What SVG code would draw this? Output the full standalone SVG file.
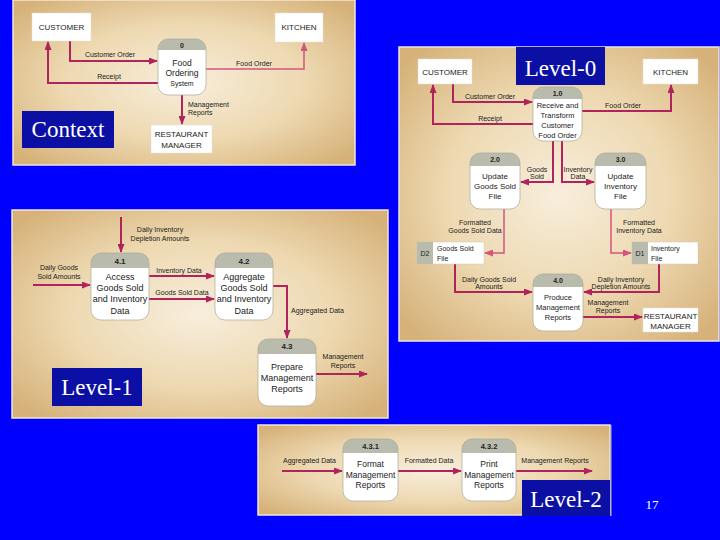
<svg xmlns="http://www.w3.org/2000/svg" width="720" height="540" viewBox="0 0 720 540">
<defs>
<radialGradient id="pg" cx="50%" cy="50%" r="65%">
<stop offset="0" stop-color="#F8EEDC"/>
<stop offset="0.55" stop-color="#EDD8B0"/>
<stop offset="1" stop-color="#D6B27A"/>
</radialGradient>
<marker id="ah" markerUnits="userSpaceOnUse" markerWidth="9" markerHeight="7" refX="8" refY="3.5" orient="auto">
<path d="M0,0 L9,3.5 L0,7 Z" fill="#B0245E"/>
</marker>
<marker id="ahl" markerUnits="userSpaceOnUse" markerWidth="9" markerHeight="7" refX="8" refY="3.5" orient="auto">
<path d="M0,0 L9,3.5 L0,7 Z" fill="#D2557F"/>
</marker>
</defs>
<style>
.panel{fill:url(#pg);stroke:#EFE6D6;stroke-width:1.5}
.lbl{fill:#0B0FA3}
.lbltx{font-family:"Liberation Serif","Times New Roman",serif;fill:#fff;text-anchor:middle}
.ent{fill:#fff;stroke:#E8E0D0;stroke-width:0.5}
.et{font-family:"Liberation Sans",Arial,sans-serif;font-size:8px;fill:#222;text-anchor:middle}
.hd{fill:#B9BBAD}
.bd{fill:#fff}
.ol{fill:none;stroke:#A9A99C;stroke-width:0.7}
.pt{font-family:"Liberation Sans",Arial,sans-serif;fill:#222;text-anchor:middle}
.ht{font-family:"Liberation Sans",Arial,sans-serif;font-weight:bold;fill:#222;text-anchor:middle}
.ds{fill:#fff;stroke:#CFC8B8;stroke-width:0.5}
.dsid{fill:#B9BBAD}
.c{fill:none;stroke:#B0245E;stroke-width:2;marker-end:url(#ah)}
.cl{fill:none;stroke:#D2557F;stroke-width:1.5;marker-end:url(#ahl)}
.t{font-family:"Liberation Sans",Arial,sans-serif;font-size:7px;fill:#222}
.m{text-anchor:middle}
</style>
<rect x="0" y="0" width="720" height="540" fill="#0000FF"/>

<!-- Panels -->
<rect class="panel" x="13" y="0" width="342" height="165"/>
<rect class="panel" x="399" y="47" width="320" height="294"/>
<rect class="panel" x="12" y="210" width="376" height="208"/>
<rect class="panel" x="258" y="425" width="352" height="90"/>

<!-- ===== Context ===== -->
<g id="connectors-context">
<polyline class="c" points="70,41 70,61 157,61"/>
<polyline class="c" points="158,83 48,83 48,42"/>
<polyline class="cl" points="206,69 304,69 304,43"/>
<polyline class="c" points="182,95 182,124"/>
<text class="t m" x="110" y="57" font-size="7.5">Customer Order</text>
<text class="t m" x="109" y="79" font-size="7.5">Receipt</text>
<text class="t m" x="254" y="66" font-size="7.5">Food Order</text>
<text class="t" x="188" y="107" font-size="7.5">Management</text>
<text class="t" x="188" y="115" font-size="7.5">Reports</text>
</g>
<g id="ctx-customer"><rect class="ent" x="32" y="13" width="59" height="28"/><text class="et" x="61.5" y="30">CUSTOMER</text></g>
<g id="ctx-kitchen"><rect class="ent" x="275" y="13" width="48" height="29"/><text class="et" x="299" y="30">KITCHEN</text></g>
<g id="ctx-manager"><rect class="ent" x="151" y="125" width="61" height="28"/><text class="et" x="181.5" y="137">RESTAURANT</text><text class="et" x="181.5" y="148">MANAGER</text></g>
<g id="ctx-p0">
<path class="hd" d="M158,50 V49 A10,10 0 0 1 168,39 H196 A10,10 0 0 1 206,49 V50 Z"/>
<path class="bd" d="M158,50 H206 V85 A10,10 0 0 1 196,95 H168 A10,10 0 0 1 158,85 Z"/>
<rect class="ol" x="158" y="39" width="48" height="56" rx="10"/>
<text class="ht" x="182" y="47.5" font-size="7">0</text>
<text class="pt" x="182" y="66" font-size="8.5">Food</text>
<text class="pt" x="182" y="76" font-size="8.5">Ordering</text>
<text class="pt" x="182" y="86" font-size="7">System</text>
</g>
<g id="lbl-context"><rect class="lbl" x="22" y="111" width="92" height="37"/><text class="lbltx" x="68" y="137" font-size="23">Context</text></g>

<!-- ===== Level-0 ===== -->
<g id="connectors-level0">
<polyline class="c" points="453,84 453,102 532,102"/>
<polyline class="c" points="533,124 433,124 433,85"/>
<polyline class="c" points="582,111 671,111 671,85"/>
<polyline class="c" points="553,141 553,182 521,182"/>
<polyline class="c" points="562,141 562,182 594,182"/>
<polyline class="cl" points="504,209 504,253 485,253"/>
<polyline class="cl" points="611,209 611,253 631,253"/>
<polyline class="c" points="455,264 455,292 532,292"/>
<polyline class="c" points="659,264 659,292 584,292"/>
<polyline class="c" points="583,317 642,317"/>
<text class="t m" x="490" y="99">Customer Order</text>
<text class="t m" x="490" y="121">Receipt</text>
<text class="t m" x="623" y="108">Food Order</text>
<text class="t m" x="537" y="172" font-size="6.5">Goods</text>
<text class="t m" x="537" y="179" font-size="6.5">Sold</text>
<text class="t m" x="578" y="172" font-size="6.5">Inventory</text>
<text class="t m" x="578" y="179" font-size="6.5">Data</text>
<text class="t m" x="475" y="225">Formatted</text>
<text class="t m" x="475" y="233">Goods Sold Data</text>
<text class="t m" x="639" y="225">Formatted</text>
<text class="t m" x="639" y="233">Inventory Data</text>
<text class="t m" x="489" y="282">Daily Goods Sold</text>
<text class="t m" x="489" y="289">Amounts</text>
<text class="t m" x="621" y="282">Daily Inventory</text>
<text class="t m" x="621" y="289">Depletion Amounts</text>
<text class="t m" x="608" y="305">Management</text>
<text class="t m" x="608" y="313">Reports</text>
</g>
<g id="l0-customer"><rect class="ent" x="418" y="59" width="54" height="25"/><text class="et" x="445" y="74.5" font-size="7.5">CUSTOMER</text></g>
<g id="l0-kitchen"><rect class="ent" x="643" y="59" width="55" height="25"/><text class="et" x="670.5" y="74.5" font-size="7.5">KITCHEN</text></g>
<g id="l0-manager"><rect class="ent" x="643" y="308" width="55" height="24"/><text class="et" x="670.5" y="318.5" font-size="8">RESTAURANT</text><text class="et" x="670.5" y="328.5" font-size="8">MANAGER</text></g>
<g id="l0-p1">
<path class="hd" d="M533,99 V97 A10,10 0 0 1 543,87 H572 A10,10 0 0 1 582,97 V99 Z"/>
<path class="bd" d="M533,99 H582 V131 A10,10 0 0 1 572,141 H543 A10,10 0 0 1 533,131 Z"/>
<rect class="ol" x="533" y="87" width="49" height="54" rx="10"/>
<text class="ht" x="557.5" y="96" font-size="7">1.0</text>
<text class="pt" x="557.5" y="108" font-size="7.5">Receive and</text>
<text class="pt" x="557.5" y="118" font-size="7.5">Transform</text>
<text class="pt" x="557.5" y="128" font-size="7.5">Customer</text>
<text class="pt" x="557.5" y="138" font-size="7.5">Food Order</text>
</g>
<g id="l0-p2">
<path class="hd" d="M470,166 V163 A10,10 0 0 1 480,153 H510 A10,10 0 0 1 520,163 V166 Z"/>
<path class="bd" d="M470,166 H520 V199 A10,10 0 0 1 510,209 H480 A10,10 0 0 1 470,199 Z"/>
<rect class="ol" x="470" y="153" width="50" height="56" rx="10"/>
<text class="ht" x="495" y="162" font-size="7">2.0</text>
<text class="pt" x="495" y="179" font-size="8">Update</text>
<text class="pt" x="495" y="189" font-size="8">Goods Sold</text>
<text class="pt" x="495" y="199" font-size="8">File</text>
</g>
<g id="l0-p3">
<path class="hd" d="M595,166 V163 A10,10 0 0 1 605,153 H636 A10,10 0 0 1 646,163 V166 Z"/>
<path class="bd" d="M595,166 H646 V199 A10,10 0 0 1 636,209 H605 A10,10 0 0 1 595,199 Z"/>
<rect class="ol" x="595" y="153" width="51" height="56" rx="10"/>
<text class="ht" x="620.5" y="162" font-size="7">3.0</text>
<text class="pt" x="620.5" y="179" font-size="8">Update</text>
<text class="pt" x="620.5" y="189" font-size="8">Inventory</text>
<text class="pt" x="620.5" y="199" font-size="8">File</text>
</g>
<g id="l0-p4">
<path class="hd" d="M533,287 V284 A10,10 0 0 1 543,274 H573 A10,10 0 0 1 583,284 V287 Z"/>
<path class="bd" d="M533,287 H583 V321 A10,10 0 0 1 573,331 H543 A10,10 0 0 1 533,321 Z"/>
<rect class="ol" x="533" y="274" width="50" height="57" rx="10"/>
<text class="ht" x="558" y="283" font-size="7">4.0</text>
<text class="pt" x="558" y="300" font-size="7.5">Produce</text>
<text class="pt" x="558" y="310" font-size="7.5">Management</text>
<text class="pt" x="558" y="320" font-size="7.5">Reports</text>
</g>
<g id="l0-d2">
<rect class="ds" x="417" y="242" width="67" height="22"/>
<rect class="dsid" x="417" y="242" width="16" height="22"/>
<text class="t m" x="425" y="256">D2</text>
<text class="t" x="437" y="251" font-size="7.5">Goods Sold</text>
<text class="t" x="437" y="261" font-size="7.5">File</text>
</g>
<g id="l0-d1">
<rect class="ds" x="632" y="242" width="66" height="22"/>
<rect class="dsid" x="632" y="242" width="16" height="22"/>
<text class="t m" x="640" y="256">D1</text>
<text class="t" x="651" y="251" font-size="7.5">Inventory</text>
<text class="t" x="651" y="261" font-size="7.5">File</text>
</g>
<g id="lbl-level0"><rect class="lbl" x="516" y="47" width="89" height="38"/><text class="lbltx" x="560.5" y="76" font-size="23">Level-0</text></g>

<!-- ===== Level-1 ===== -->
<g id="connectors-level1">
<polyline class="c" points="121,217 121,252"/>
<polyline class="c" points="33,285 90,285"/>
<polyline class="c" points="149,276 214,276"/>
<polyline class="c" points="149,299 214,299"/>
<polyline class="c" points="273,286 287,286 287,338"/>
<polyline class="c" points="316,374 367,374"/>
<text class="t m" x="160" y="232" font-size="7.5">Daily Inventory</text>
<text class="t m" x="160" y="241" font-size="7.5">Depletion Amounts</text>
<text class="t m" x="59" y="270" font-size="7.5">Daily Goods</text>
<text class="t m" x="59" y="279" font-size="7.5">Sold Amounts</text>
<text class="t m" x="179" y="273" font-size="7.5">Inventory Data</text>
<text class="t m" x="182" y="295" font-size="7.5">Goods Sold Data</text>
<text class="t" x="291" y="313" font-size="7.5">Aggregated Data</text>
<text class="t m" x="343" y="359" font-size="7.5">Management</text>
<text class="t m" x="343" y="368" font-size="7.5">Reports</text>
</g>
<g id="l1-p41">
<path class="hd" d="M91,268 V263 A10,10 0 0 1 101,253 H139 A10,10 0 0 1 149,263 V268 Z"/>
<path class="bd" d="M91,268 H149 V310 A10,10 0 0 1 139,320 H101 A10,10 0 0 1 91,310 Z"/>
<rect class="ol" x="91" y="253" width="58" height="67" rx="10"/>
<text class="ht" x="120" y="264" font-size="8">4.1</text>
<text class="pt" x="120" y="280" font-size="9">Access</text>
<text class="pt" x="120" y="291" font-size="9">Goods Sold</text>
<text class="pt" x="120" y="302" font-size="9">and Inventory</text>
<text class="pt" x="120" y="314" font-size="9">Data</text>
</g>
<g id="l1-p42">
<path class="hd" d="M215,268 V263 A10,10 0 0 1 225,253 H263 A10,10 0 0 1 273,263 V268 Z"/>
<path class="bd" d="M215,268 H273 V310 A10,10 0 0 1 263,320 H225 A10,10 0 0 1 215,310 Z"/>
<rect class="ol" x="215" y="253" width="58" height="67" rx="10"/>
<text class="ht" x="244" y="264" font-size="8">4.2</text>
<text class="pt" x="244" y="280" font-size="9">Aggregate</text>
<text class="pt" x="244" y="291" font-size="9">Goods Sold</text>
<text class="pt" x="244" y="302" font-size="9">and Inventory</text>
<text class="pt" x="244" y="314" font-size="9">Data</text>
</g>
<g id="l1-p43">
<path class="hd" d="M258,354 V349 A10,10 0 0 1 268,339 H306 A10,10 0 0 1 316,349 V354 Z"/>
<path class="bd" d="M258,354 H316 V396 A10,10 0 0 1 306,406 H268 A10,10 0 0 1 258,396 Z"/>
<rect class="ol" x="258" y="339" width="58" height="67" rx="10"/>
<text class="ht" x="287" y="349" font-size="8">4.3</text>
<text class="pt" x="287" y="370" font-size="9">Prepare</text>
<text class="pt" x="287" y="381" font-size="9">Management</text>
<text class="pt" x="287" y="392" font-size="9">Reports</text>
</g>
<g id="lbl-level1"><rect class="lbl" x="52" y="368" width="90" height="38"/><text class="lbltx" x="97" y="395" font-size="23">Level-1</text></g>

<!-- ===== Level-2 ===== -->
<g id="connectors-level2">
<polyline class="c" points="282,471 342,471"/>
<polyline class="c" points="398,471 461,471"/>
<polyline class="c" points="516,471 592,471"/>
<text class="t m" x="309.5" y="463" font-size="7.5">Aggregated Data</text>
<text class="t m" x="429" y="463" font-size="7.5">Formatted Data</text>
<text class="t m" x="555" y="463" font-size="7.5">Management Reports</text>
</g>
<g id="l2-p431">
<path class="hd" d="M343,453 V449 A10,10 0 0 1 353,439 H388 A10,10 0 0 1 398,449 V453 Z"/>
<path class="bd" d="M343,453 H398 V491 A10,10 0 0 1 388,501 H353 A10,10 0 0 1 343,491 Z"/>
<rect class="ol" x="343" y="439" width="55" height="62" rx="10"/>
<text class="ht" x="370.5" y="449" font-size="7.5">4.3.1</text>
<text class="pt" x="370.5" y="467" font-size="8.5">Format</text>
<text class="pt" x="370.5" y="478" font-size="8.5">Management</text>
<text class="pt" x="370.5" y="488" font-size="8.5">Reports</text>
</g>
<g id="l2-p432">
<path class="hd" d="M462,453 V449 A10,10 0 0 1 472,439 H506 A10,10 0 0 1 516,449 V453 Z"/>
<path class="bd" d="M462,453 H516 V491 A10,10 0 0 1 506,501 H472 A10,10 0 0 1 462,491 Z"/>
<rect class="ol" x="462" y="439" width="54" height="62" rx="10"/>
<text class="ht" x="489" y="449" font-size="7.5">4.3.2</text>
<text class="pt" x="489" y="467" font-size="8.5">Print</text>
<text class="pt" x="489" y="478" font-size="8.5">Management</text>
<text class="pt" x="489" y="488" font-size="8.5">Reports</text>
</g>
<g id="lbl-level2"><rect class="lbl" x="522" y="480" width="88" height="36"/><line x1="611" y1="425" x2="611" y2="516" stroke="#B8B8B8" stroke-width="1"/><text class="lbltx" x="566" y="507" font-size="23">Level-2</text></g>

<text x="652" y="509" font-family="'Liberation Serif','Times New Roman',serif" font-size="13" fill="#fff" text-anchor="middle">17</text>
</svg>
